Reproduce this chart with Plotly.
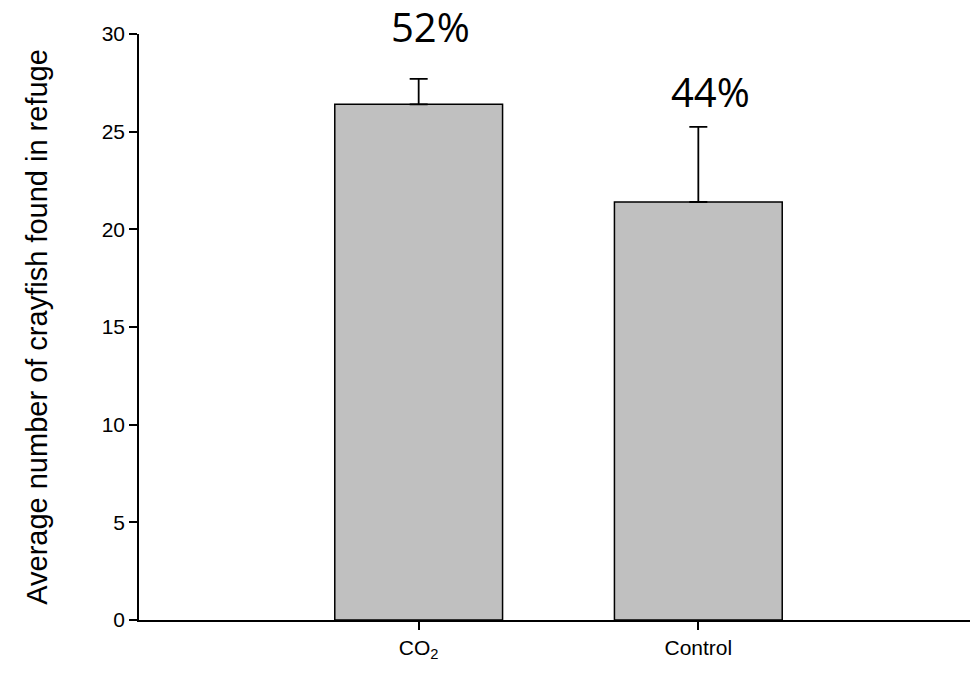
import plotly.graph_objects as go

categories = ["CO<sub>2</sub>", "Control"]
means = [26.4, 21.4]
errors_up = [1.3, 3.85]
pct_labels = ["52%", "44%"]
pct_label_shift = [52, 35]
y_ticks = [0, 5, 10, 15, 20, 25, 30]

x_idx = list(range(len(categories)))

fig = go.Figure()
fig.add_trace(go.Bar(
    x=x_idx, y=means, width=0.6,
    marker=dict(color="#c0c0c0", line=dict(color="black", width=1.5)),
    error_y=dict(type="data", array=errors_up, arrayminus=[0] * len(means),
                 symmetric=False, color="black", thickness=1.8, width=9),
))

for i, (t, sh) in enumerate(zip(pct_labels, pct_label_shift)):
    fig.add_annotation(x=i, y=means[i] + errors_up[i], xref="x", yref="y", text=t,
                       showarrow=False, yshift=sh, xshift=12, yanchor="middle",
                       font=dict(family="Open Sans, Noto Sans, sans-serif", size=40, color="black"))

fig.update_layout(
    width=970, height=671,
    margin=dict(l=131, r=0, t=26, b=59),
    plot_bgcolor="white", paper_bgcolor="white",
    showlegend=False,
    font=dict(family="Liberation Sans, Arial, sans-serif", color="black"),
)
fig.update_xaxes(
    range=[-1, 2], tickvals=x_idx, ticktext=categories,
    tickfont=dict(size=21),
    showline=True, linecolor="black", linewidth=1.5,
    ticks="outside", ticklen=8, tickwidth=1.5, tickcolor="black",
    showgrid=False, zeroline=False,
)
fig.update_yaxes(
    range=[0, 30], tickvals=y_ticks,
    showline=True, linecolor="black", linewidth=1.5,
    ticks="outside", ticklen=8, tickwidth=1.5, tickcolor="black",
    tickfont=dict(size=21),
    showgrid=False, zeroline=False,
    title=dict(text="Average number of crayfish found in refuge", font=dict(size=29), standoff=46),
)

fig.write_html("out.html")
